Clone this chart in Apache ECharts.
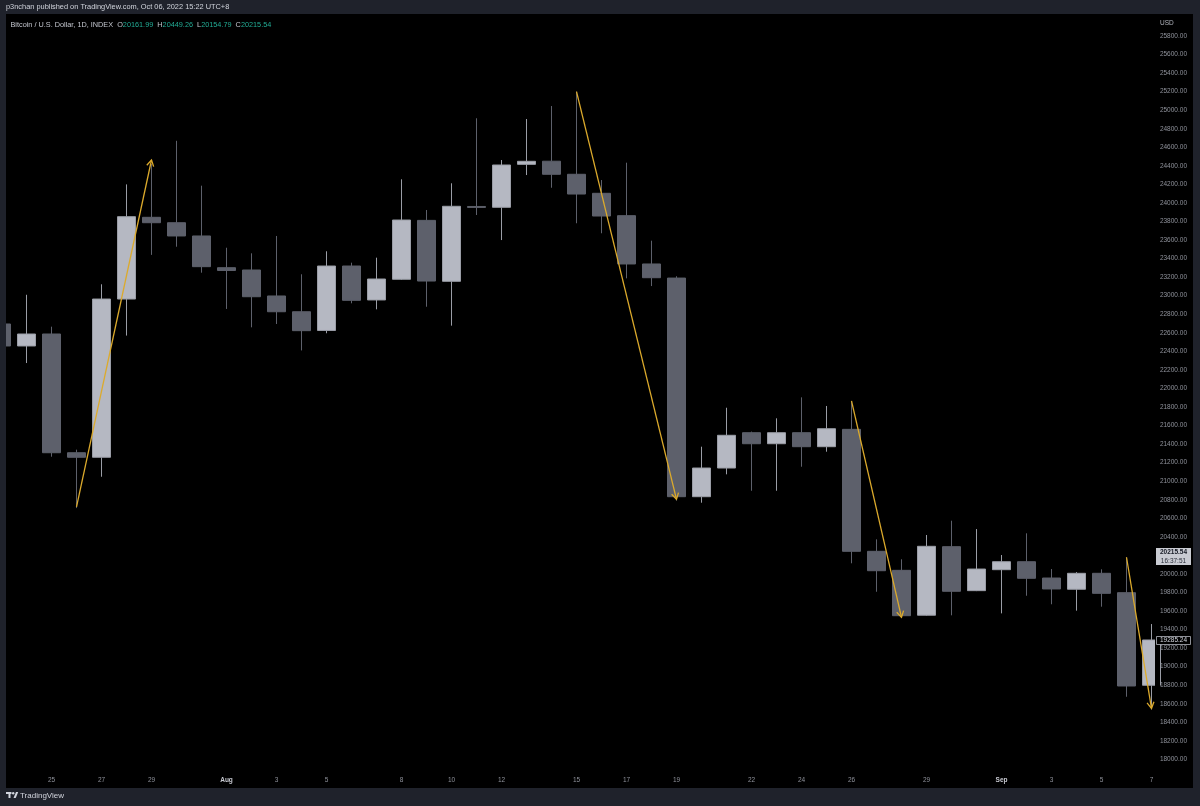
<!DOCTYPE html>
<html>
<head>
<meta charset="utf-8">
<title>BTCUSD 1D</title>
<script src="https://cdn.jsdelivr.net/npm/echarts@6/dist/echarts.min.js"></script>
<style>
  html, body { margin: 0; padding: 0; background: #1f222b; }
  #chart { width: 1200px; height: 806px; }
</style>
</head>
<body>
<div id="chart"></div>
<script>
// daily candles, Jul 23 -> Sep 7 2022
const dates = [
  'Jul 23', 'Jul 24', 'Jul 25', 'Jul 26', 'Jul 27', 'Jul 28', 'Jul 29', 'Jul 30', 'Jul 31',
  'Aug 1', 'Aug 2', 'Aug 3', 'Aug 4', 'Aug 5', 'Aug 6', 'Aug 7', 'Aug 8', 'Aug 9', 'Aug 10',
  'Aug 11', 'Aug 12', 'Aug 13', 'Aug 14', 'Aug 15', 'Aug 16', 'Aug 17', 'Aug 18', 'Aug 19',
  'Aug 20', 'Aug 21', 'Aug 22', 'Aug 23', 'Aug 24', 'Aug 25', 'Aug 26', 'Aug 27', 'Aug 28',
  'Aug 29', 'Aug 30', 'Aug 31', 'Sep 1', 'Sep 2', 'Sep 3', 'Sep 4', 'Sep 5', 'Sep 6', 'Sep 7'
];
const opens = [
  22695, 22458, 22587, 21307, 21258, 22964, 23845, 23787, 23644,
  23302, 23277, 22997, 22827, 22625, 23320, 22954, 23177, 23812, 23155,
  23962, 23953, 24416, 24450, 24309, 24104, 23863, 23342, 23190,
  20833, 21142, 21523, 21404, 21523, 21372, 21559, 20244, 20039,
  19555, 20294, 19820, 20046, 20132, 19956, 19835, 20007, 19798, 18800
];
const closes = [
  22458, 22587, 21307, 21258, 22964, 23852, 23787, 23644, 23313,
  23272, 22989, 22827, 22623, 23320, 22950, 23180, 23816, 23158, 23964,
  23952, 24409, 24449, 24309, 24096, 23859, 23342, 23194, 20833,
  21142, 21495, 21404, 21523, 21372, 21566, 20244, 20035, 19550,
  20298, 19813, 20053, 20132, 19953, 19838, 20007, 19791, 18792, 19288
];
const lows = [
  22330, 22274, 21264, 20710, 21048, 22570, 23440, 23528, 23248,
  22857, 22659, 22695, 22410, 22595, 22918, 22853, 23170, 22881, 22677,
  23870, 23600, 24301, 24164, 23781, 23673, 23187, 23104, 20790,
  20768, 21074, 20897, 20897, 21156, 21318, 20115, 19808, 19525,
  19550, 19554, 19815, 19575, 19765, 19673, 19604, 19647, 18676, 18540
];
const highs = [
  22780, 23010, 22666, 21340, 23123, 24200, 24420, 24670, 24186,
  23517, 23457, 23644, 23231, 23479, 23356, 23410, 24255, 23924, 24212,
  24913, 24463, 24905, 25045, 25200, 24247, 24434, 23593, 23210,
  21372, 21792, 21535, 21678, 21904, 21811, 21860, 20373, 20158,
  20420, 20574, 20484, 20204, 20438, 20053, 20020, 20050, 20180, 19460
];

// labelled days on the time scale
const tickDates = ['Jul 25', 'Jul 27', 'Jul 29', 'Aug 1', 'Aug 3', 'Aug 5', 'Aug 8', 'Aug 10', 'Aug 12', 'Aug 15',
  'Aug 17', 'Aug 19', 'Aug 22', 'Aug 24', 'Aug 26', 'Aug 29', 'Sep 1', 'Sep 3', 'Sep 5', 'Sep 7'];
const tickLabels = ['25', '27', '29', 'Aug', '3', '5', '8', '10', '12', '15',
  '17', '19', '22', '24', '26', '29', 'Sep', '3', '5', '7'];

// yellow drawn arrows: [start date, start price, end date, end price]
const arrowStart = [['Jul 26', 20722], ['Aug 15', 25200], ['Aug 26', 21865], ['Sep 6', 20180]];
const arrowEnd = [['Jul 29', 24463], ['Aug 19', 20805], ['Aug 28', 19532], ['Sep 7', 18551]];

// price labels on the scale
const lastPrice = '20215.54';
const countdown = '16:37:51';
const markPrice = '19285.24';

const candleData = dates.map((d, i) => [opens[i], closes[i], lows[i], highs[i]]);
const arrowData = arrowStart.map((s, i) => [
  dates.indexOf(s[0]), s[1], dates.indexOf(arrowEnd[i][0]), arrowEnd[i][1]
]);

const FONT = '"Liberation Sans", Arial, sans-serif';
const FRAME = '#1f222b';

const myChart = echarts.init(document.getElementById('chart'), null, { renderer: 'canvas' });

const option = {
  backgroundColor: '#000000',
  animation: false,
  grid: {
    left: -11,          // first candle is cut by the left border
    right: 36,
    top: 17.45,
    bottom: 28,
    containLabel: false,
    outerBoundsMode: 'none'
  },
  xAxis: {
    type: 'category',
    data: dates,
    boundaryGap: true,
    axisLine: { show: false },
    axisTick: { show: false },
    splitLine: { show: false },
    axisLabel: {
      interval: 0,
      margin: 2,
      verticalAlign: 'middle',
      color: '#8f929b',
      fontSize: 6.5,
      fontFamily: FONT,
      formatter: function (value) {
        const i = tickDates.indexOf(value);
        if (i < 0) return '';
        const t = tickLabels[i];
        return (t === 'Aug' || t === 'Sep') ? '{m|' + t + '}' : t;
      },
      rich: {
        m: { color: '#c8cad2', fontWeight: 'bold', fontSize: 6.5, fontFamily: FONT }
      }
    }
  },
  yAxis: {
    type: 'value',
    position: 'right',
    min: 17800,
    max: 26000,
    interval: 200,
    scale: true,
    axisLine: { show: false },
    axisTick: { show: false },
    splitLine: { show: false },
    axisLabel: {
      margin: 23,
      align: 'right',
      color: '#8f929b',
      fontSize: 6.5,
      fontFamily: FONT,
      formatter: function (v) {
        return (v > 25800 || v < 18000) ? '' : v.toFixed(2);
      }
    }
  },
  series: [
    {
      type: 'candlestick',
      data: candleData,
      barWidth: 19,
      itemStyle: {
        color: '#b5b8c2',
        color0: '#5d606b',
        borderColor: '#9a9da6',
        borderColor0: '#5d606b',
        borderWidth: 1
      }
    },
    {
      type: 'custom',
      data: arrowData,
      encode: { x: [0, 2], y: [1, 3] },
      silent: true,
      z: 5,
      renderItem: function (params, api) {
        const p0 = api.coord([api.value(0), api.value(1)]);
        const p1 = api.coord([api.value(2), api.value(3)]);
        const dx = p1[0] - p0[0], dy = p1[1] - p0[1];
        const len = Math.sqrt(dx * dx + dy * dy);
        const ux = dx / len, uy = dy / len;
        const L = 7, a = Math.PI / 6;
        const arm = function (s) {
          const c = Math.cos(s * a), sn = Math.sin(s * a);
          const rx = ux * c - uy * sn, ry = ux * sn + uy * c;
          return [p1[0] - L * rx, p1[1] - L * ry];
        };
        const style = { stroke: '#dcaa2c', lineWidth: 1.3, fill: null };
        return {
          type: 'group',
          children: [
            { type: 'line', shape: { x1: p0[0], y1: p0[1], x2: p1[0], y2: p1[1] }, style: style },
            { type: 'polyline', shape: { points: [arm(1), p1, arm(-1)] }, style: style }
          ]
        };
      }
    }
  ],
  graphic: [
    // clip last candle at the price scale
    { type: 'rect', z: 50, shape: { x: 1155, y: 14, width: 5, height: 774 }, style: { fill: '#000000' } },
    // dark frame around the chart
    { type: 'rect', z: 60, shape: { x: 0, y: 0, width: 1200, height: 14 }, style: { fill: FRAME } },
    { type: 'rect', z: 60, shape: { x: 0, y: 0, width: 6, height: 806 }, style: { fill: FRAME } },
    { type: 'rect', z: 60, shape: { x: 1193, y: 0, width: 7, height: 806 }, style: { fill: FRAME } },
    { type: 'rect', z: 60, shape: { x: 0, y: 788, width: 1200, height: 18 }, style: { fill: FRAME } },
    {
      type: 'text', z: 70, left: 6, top: 3,
      style: {
        text: 'p3nchan published on TradingView.com, Oct 06, 2022 15:22 UTC+8',
        fill: '#d1d4dc', font: '7.4px ' + FONT
      }
    },
    {
      type: 'text', z: 70, left: 10.5, top: 21,
      style: {
        text: '{t|Bitcoin / U.S. Dollar, 1D, INDEX}  {k|O}{v|20161.99}  {k|H}{v|20449.26}  {k|L}{v|20154.79}  {k|C}{v|20215.54}',
        font: '7.3px ' + FONT,
        rich: {
          t: { fill: '#c3c6ce', font: '7.3px ' + FONT },
          k: { fill: '#c3c6ce', font: '7.3px ' + FONT },
          v: { fill: '#22ab94', font: '7.3px ' + FONT }
        }
      }
    },
    {
      type: 'text', z: 70, left: 1160, top: 19.5,
      style: { text: 'USD', fill: '#b2b5be', font: '6.5px ' + FONT }
    },
    // last price box
    { type: 'rect', z: 70, shape: { x: 1156, y: 548, width: 35, height: 17 }, style: { fill: '#c9cbd2' } },
    {
      type: 'text', z: 71, x: 1173.5, y: 552.5,
      style: { text: lastPrice, fill: '#131722', font: 'bold 6.5px ' + FONT, align: 'center', verticalAlign: 'middle' }
    },
    {
      type: 'text', z: 71, x: 1173.5, y: 561,
      style: { text: countdown, fill: '#2a2e39', font: '6.5px ' + FONT, align: 'center', verticalAlign: 'middle' }
    },
    // outlined price box
    {
      type: 'rect', z: 70, shape: { x: 1156.5, y: 636.5, width: 34, height: 8 },
      style: { fill: '#000000', stroke: '#b2b5be', lineWidth: 0.8 }
    },
    {
      type: 'text', z: 71, x: 1173.5, y: 640.7,
      style: { text: markPrice, fill: '#d1d4dc', font: '6.5px ' + FONT, align: 'center', verticalAlign: 'middle' }
    },
    // footer logo
    { type: 'rect', z: 70, shape: { x: 6, y: 792, width: 5.5, height: 2 }, style: { fill: '#d1d4dc' } },
    { type: 'rect', z: 70, shape: { x: 8.5, y: 792, width: 2, height: 6 }, style: { fill: '#d1d4dc' } },
    { type: 'circle', z: 70, shape: { cx: 13.2, cy: 793.2, r: 1.2 }, style: { fill: '#d1d4dc' } },
    {
      type: 'polygon', z: 70,
      shape: { points: [[13.5, 798], [16, 792], [18.2, 792], [15.7, 798]] },
      style: { fill: '#d1d4dc' }
    },
    {
      type: 'text', z: 70, left: 20, top: 791.5,
      style: { text: 'TradingView', fill: '#d1d4dc', font: '8px ' + FONT }
    }
  ]
};

option && myChart.setOption(option);
</script>
</body>
</html>
